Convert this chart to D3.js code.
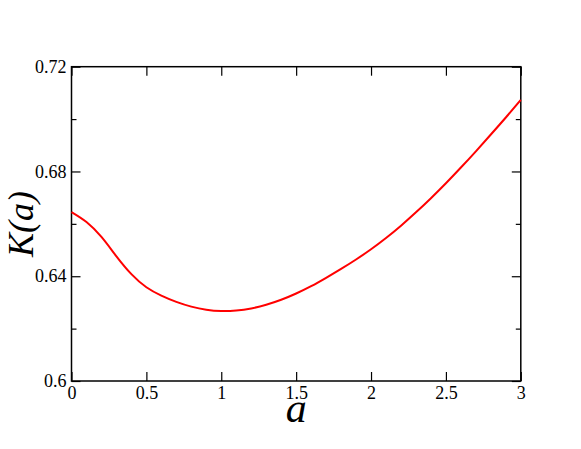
<!DOCTYPE html>
<head>
  <meta charset="utf-8">
  <title>K(a)</title>
</head>
<style>
  body { margin: 0; background: #fff; }
  svg { display: block; }
  .tick text {
    font-family: "Liberation Serif", "DejaVu Serif", serif;
    font-size: 18px;
    fill: #000;
  }
  .title {
    font-family: "Liberation Serif", "DejaVu Serif", serif;
    font-style: italic;
    fill: #000;
  }
</style>
<svg width="581" height="449"></svg>
<script src="https://d3js.org/d3.v7.min.js"></script>
<script>
  // values
  var aValues = [0, 0.1, 0.2, 0.3, 0.4, 0.5, 0.6, 0.7, 0.8, 0.9, 1.0,
    1.1, 1.2, 1.3, 1.4, 1.5, 1.6, 1.7, 1.8, 1.9, 2.0,
    2.1, 2.2, 2.3, 2.4, 2.5, 2.6, 2.7, 2.8, 2.9, 3.0];
  var kValues = [0.6645, 0.6607, 0.6550, 0.6476, 0.6408, 0.6358, 0.6326, 0.6302, 0.6284, 0.6272, 0.6267,
    0.6269, 0.6277, 0.6291, 0.6310, 0.6334, 0.6362, 0.6394, 0.6428, 0.6464, 0.6503,
    0.6546, 0.6593, 0.6644, 0.6698, 0.6755, 0.6815, 0.6877, 0.6941, 0.7006, 0.7073];
  var xTicks = [0, 0.5, 1, 1.5, 2, 2.5, 3];
  var xTickLabels = ["0", "0.5", "1", "1.5", "2", "2.5", "3"];
  var yTicks = [0.6, 0.64, 0.68, 0.72];
  var yTickLabels = ["0.6", "0.64", "0.68", "0.72"];
  var yMinorTicks = [0.62, 0.66, 0.70];

  var svg = d3.select("svg"),
    padL = 71.5, padR = 520.8, padT = 66.7, padB = 381;

  var x = d3.scaleLinear().domain([0, 3]).range([padL, padR]);
  var y = d3.scaleLinear().domain([0.6, 0.72]).range([padB, padT]);

  var data = aValues.map(function (a, i) { return { a: a, k: kValues[i] }; });

  // frame
  svg.append("rect")
    .attr("x", padL).attr("y", padT)
    .attr("width", padR - padL).attr("height", padB - padT)
    .attr("fill", "none")
    .attr("stroke", "#000")
    .attr("stroke-width", 1.5);

  function noDomain(g) { g.select(".domain").remove(); }

  // bottom axis with labels
  svg.append("g")
    .attr("transform", "translate(0," + padB + ")")
    .call(d3.axisTop(x).tickValues(xTicks).tickSize(9).tickFormat(""))
    .call(noDomain);
  svg.append("g")
    .attr("transform", "translate(0," + padB + ")")
    .call(d3.axisBottom(x).tickValues(xTicks).tickSize(0).tickPadding(5)
      .tickFormat(function (d, i) { return xTickLabels[i]; }))
    .call(noDomain);
  // top axis ticks
  svg.append("g")
    .attr("transform", "translate(0," + padT + ")")
    .call(d3.axisBottom(x).tickValues(xTicks).tickSize(9).tickFormat(""))
    .call(noDomain);

  // left axis
  svg.append("g")
    .attr("transform", "translate(" + padL + ",0)")
    .call(d3.axisRight(y).tickValues(yTicks).tickSize(9).tickFormat(""))
    .call(noDomain);
  svg.append("g")
    .attr("transform", "translate(" + padL + ",0)")
    .call(d3.axisRight(y).tickValues(yMinorTicks).tickSize(5).tickFormat(""))
    .call(noDomain);
  svg.append("g")
    .attr("transform", "translate(" + padL + ",0)")
    .call(d3.axisLeft(y).tickValues(yTicks).tickSize(0).tickPadding(5)
      .tickFormat(function (d, i) { return yTickLabels[i]; }))
    .call(noDomain);

  // right axis ticks
  svg.append("g")
    .attr("transform", "translate(" + padR + ",0)")
    .call(d3.axisLeft(y).tickValues(yTicks).tickSize(9).tickFormat(""))
    .call(noDomain);
  svg.append("g")
    .attr("transform", "translate(" + padR + ",0)")
    .call(d3.axisLeft(y).tickValues(yMinorTicks).tickSize(5).tickFormat(""))
    .call(noDomain);

  svg.selectAll(".tick line").attr("stroke", "#000").attr("stroke-width", 1.2);

  // curve
  svg.append("path")
    .datum(data)
    .attr("fill", "none")
    .attr("stroke", "#ff0000")
    .attr("stroke-width", 2)
    .attr("d", d3.line()
      .x(function (d) { return x(d.a); })
      .y(function (d) { return y(d.k); })
      .curve(d3.curveNatural));

  // axis titles
  svg.append("text")
    .attr("class", "title")
    .attr("x", (padL + padR) / 2)
    .attr("y", 422)
    .attr("text-anchor", "middle")
    .style("font-size", "42px")
    .text("a");

  svg.append("text")
    .attr("class", "title")
    .attr("transform", "translate(33," + 224 + ") rotate(-90)")
    .attr("text-anchor", "middle")
    .style("font-size", "36px")
    .text("K(a)");
</script>
